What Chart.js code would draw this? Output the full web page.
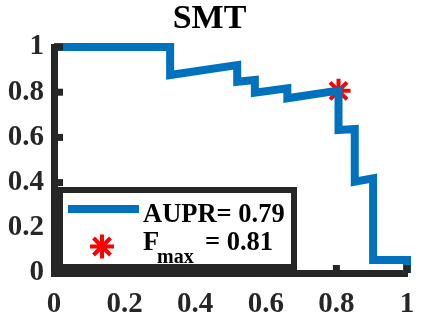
<!DOCTYPE html>
<html>
<head>
<meta charset="utf-8">
<script src="https://cdn.jsdelivr.net/npm/chart.js@4"></script>
<style>
  html, body { margin: 0; padding: 0; background: #fff; }
  canvas { display: block; }
</style>
</head>
<body>
<canvas id="chart" width="423" height="319"></canvas>
<script>
// PR curve (recall, precision)
const recall    = [0, 0.329, 0.329, 0.519, 0.519, 0.569, 0.569, 0.661, 0.661, 0.806, 0.806, 0.852, 0.852, 0.904, 0.904, 1.0, 1.0];
const precision = [1, 1, 0.876, 0.920, 0.846, 0.854, 0.798, 0.817, 0.773, 0.807, 0.633, 0.637, 0.404, 0.419, 0.058, 0.058, 0];
const fmaxPoint = [0.806, 0.806];
const xTicks = [0, 0.2, 0.4, 0.6, 0.8, 1];
const yTicks = [0, 0.2, 0.4, 0.6, 0.8, 1];
const titleText = 'SMT';
const auprLabel = 'AUPR= 0.79';
const fmaxLabel = ['F', 'max', '= 0.81'];

const FONT = "'Liberation Serif', 'Times New Roman', serif";
const AXIS = '#262626';
const BLUE = '#0072BD';

Chart.defaults.font.family = FONT;

// MATLAB style inward ticks, drawn on top of the data
const inwardTicks = {
    id: 'inwardTicks',
    afterDatasetsDraw(chart) {
        const ctx = chart.ctx, x = chart.scales.x, y = chart.scales.y;
        const x0 = x.getPixelForValue(0), y0 = y.getPixelForValue(0);
        ctx.save();
        ctx.strokeStyle = AXIS;
        ctx.lineWidth = 7;
        yTicks.slice(1).forEach(v => {
            const py = y.getPixelForValue(v);
            ctx.beginPath(); ctx.moveTo(x0, py); ctx.lineTo(x0 + 9, py); ctx.stroke();
        });
        xTicks.slice(1).forEach(v => {
            const px = x.getPixelForValue(v);
            ctx.beginPath(); ctx.moveTo(px, y0); ctx.lineTo(px, y0 - 8); ctx.stroke();
        });
        ctx.restore();
    }
};

// legend box inside the axes, bottom left
const boxLegend = {
    id: 'boxLegend',
    afterDraw(chart) {
        const ctx = chart.ctx;
        ctx.save();
        ctx.fillStyle = '#fff';
        ctx.fillRect(60, 190, 234, 77);
        ctx.strokeStyle = AXIS;
        ctx.lineWidth = 6;
        ctx.strokeRect(60, 190, 234, 77);

        // line sample
        ctx.strokeStyle = BLUE;
        ctx.lineWidth = 8;
        ctx.beginPath(); ctx.moveTo(68, 209); ctx.lineTo(139, 209); ctx.stroke();

        // star sample
        const cx = 102, cy = 246.5, r = 12;
        ctx.strokeStyle = '#ff0000';
        ctx.lineWidth = 4;
        ctx.beginPath();
        ctx.moveTo(cx - r, cy); ctx.lineTo(cx + r, cy);
        ctx.moveTo(cx, cy - r); ctx.lineTo(cx, cy + r);
        const d = r * Math.SQRT1_2;
        ctx.moveTo(cx - d, cy - d); ctx.lineTo(cx + d, cy + d);
        ctx.moveTo(cx - d, cy + d); ctx.lineTo(cx + d, cy - d);
        ctx.stroke();

        ctx.fillStyle = '#000';
        ctx.textBaseline = 'alphabetic';
        ctx.textAlign = 'left';
        ctx.font = 'bold 26.5px ' + FONT;
        ctx.fillText(auprLabel, 143, 221.5);
        ctx.fillText(fmaxLabel[0], 143, 249.5);
        ctx.fillText(fmaxLabel[2], 205, 249.5);
        ctx.font = 'bold 20px ' + FONT;
        ctx.fillText(fmaxLabel[1], 157, 262.5);
        ctx.restore();
    }
};

const fmt = v => String(Math.round(v * 10) / 10);

const ctx = document.getElementById('chart').getContext('2d');
new Chart(ctx, {
    type: 'scatter',
    data: {
        datasets: [{
            label: auprLabel,
            data: recall.map((r, i) => ({ x: r, y: precision[i] })),
            showLine: true,
            borderColor: BLUE,
            borderWidth: 8,
            pointRadius: 0,
            tension: 0,
            clip: false
        }, {
            label: 'Fmax',
            data: [{ x: fmaxPoint[0], y: fmaxPoint[1] }],
            showLine: false,
            pointStyle: 'star',
            pointRadius: 12,
            pointBorderColor: '#ff0000',
            pointBackgroundColor: '#ff0000',
            pointBorderWidth: 4,
            clip: false
        }]
    },
    options: {
        responsive: false,
        animation: false,
        events: [],
        devicePixelRatio: 1,
        layout: { padding: { left: 0, right: 4, top: 0, bottom: 0 } },
        plugins: {
            legend: { display: false },
            tooltip: { enabled: false },
            title: {
                display: true,
                text: titleText,
                color: '#000',
                font: { size: 34, weight: 'bold', lineHeight: 1 },
                padding: { top: 2, bottom: 11 }
            }
        },
        scales: {
            x: {
                type: 'linear',
                min: 0, max: 1,
                afterBuildTicks: s => { s.ticks = xTicks.map(v => ({ value: v })); },
                afterFit: s => { s.height = 46; s.paddingLeft = 0; s.paddingRight = 8; },
                grid: { display: false, drawTicks: false },
                border: { display: true, color: AXIS, width: 7 },
                ticks: {
                    color: AXIS,
                    padding: 14,
                    maxRotation: 0,
                    callback: fmt,
                    font: { size: 29, weight: 'bold' }
                }
            },
            y: {
                type: 'linear',
                min: 0, max: 1,
                afterBuildTicks: s => { s.ticks = yTicks.map(v => ({ value: v })); },
                afterFit: s => { s.width = 54; },
                grid: { display: false, drawTicks: false },
                border: { display: true, color: AXIS, width: 7, z: 1 },
                ticks: {
                    color: AXIS,
                    padding: 10,
                    callback: fmt,
                    font: { size: 29, weight: 'bold' }
                }
            }
        }
    },
    plugins: [inwardTicks, boxLegend]
});
</script>
</body>
</html>
